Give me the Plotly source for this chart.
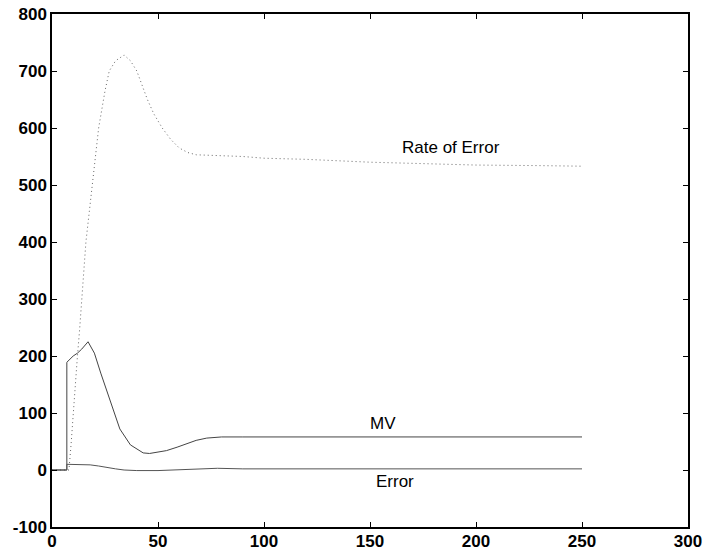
import plotly.graph_objects as go

# Data
t_mv = [0, 7, 7, 10, 12, 14, 17, 20, 23, 27, 32, 37, 43, 46, 50, 54, 59, 64, 68, 73, 80, 90, 100, 150, 200, 250]
mv = [0, 0, 189, 200, 205, 212, 225, 205, 170, 128, 72, 44, 30, 29, 31, 34, 40, 46, 52, 56, 58, 58, 58, 58, 58, 58]

t_err = [0, 7, 7, 12, 18, 22, 26, 30, 34, 40, 50, 60, 70, 78, 90, 100, 150, 200, 250]
err = [0, 0, 10, 10, 9, 7, 4, 2, 0, -1, -1, 0, 2, 3, 2, 2, 2, 2, 2]

t_rate = [0, 8, 9, 10, 11, 12, 13, 14, 16, 19, 22, 25, 27, 30, 34, 37, 40, 45, 48, 52, 56, 60, 64, 68, 75, 90, 100, 120, 150, 180, 200, 230, 250]
rate = [0, 0, 45, 100, 160, 200, 245, 300, 400, 500, 600, 665, 700, 718, 728, 718, 700, 650, 625, 600, 580, 565, 557, 553, 552, 550, 547, 545, 540, 537, 535, 534, 533]

labels = ["Rate of Error", "MV", "Error"]
label_x = [188, 156, 162]
label_y = [565, 81, -20]

x_ticks = [0, 50, 100, 150, 200, 250, 300]
y_ticks = [-100, 0, 100, 200, 300, 400, 500, 600, 700, 800]

fig = go.Figure()
fig.add_trace(go.Scatter(x=t_rate, y=rate, mode="lines",
                         line=dict(color="#666666", width=1, dash="1px,3px"), name="Rate of Error"))
fig.add_trace(go.Scatter(x=t_mv, y=mv, mode="lines",
                         line=dict(color="#444444", width=1), name="MV"))
fig.add_trace(go.Scatter(x=t_err, y=err, mode="lines",
                         line=dict(color="#555555", width=1), name="Error"))

for txt, lx, ly in zip(labels, label_x, label_y):
    fig.add_annotation(x=lx, y=ly, text=txt, showarrow=False,
                       font=dict(family="Liberation Sans, Arial", size=17, color="black"))

axis_common = dict(showgrid=False, zeroline=False, showline=True, linecolor="black",
                   linewidth=1.5, mirror="ticks", ticks="inside", ticklen=5,
                   tickcolor="black", automargin=False,
                   tickfont=dict(family="Liberation Sans, Arial", size=17, color="black", weight="bold"))

fig.update_xaxes(range=[0, 300], tickvals=x_ticks, ticktext=[str(v) for v in x_ticks],
                 ticklabelstandoff=-2, **axis_common)
fig.update_yaxes(range=[-100, 800], tickvals=y_ticks, ticktext=[str(v) for v in y_ticks], **axis_common)

fig.update_layout(width=703, height=553, showlegend=False,
                  plot_bgcolor="white", paper_bgcolor="white",
                  margin=dict(l=52, r=15, t=14, b=26))

fig.write_html("out.html")
